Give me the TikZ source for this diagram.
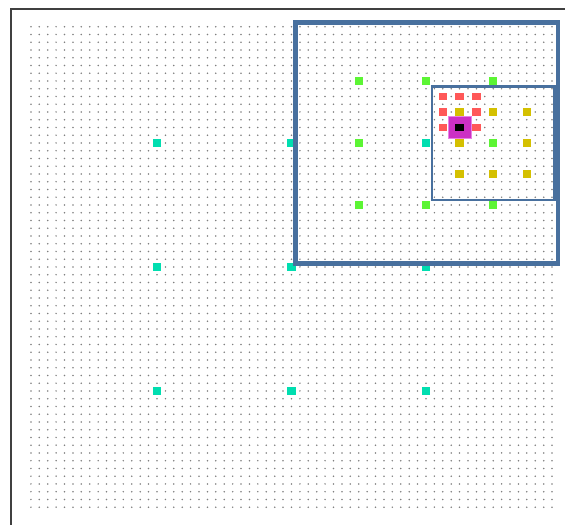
\documentclass[tikz,border=0pt]{standalone}
\usepackage{tikz}
\usetikzlibrary{positioning}
\definecolor{gridblue}{RGB}{72,112,158}
\definecolor{cellteal}{RGB}{0,222,176}
\definecolor{cellgreen}{RGB}{92,245,52}
\definecolor{cellyellow}{RGB}{212,192,0}
\definecolor{cellred}{RGB}{255,88,88}
\definecolor{cellmagenta}{RGB}{204,48,196}
\definecolor{cellpink}{RGB}{232,130,228}
\tikzset{
  cell/.style={rectangle, inner sep=0pt, minimum width=2.5mm, minimum height=2.35mm},
  tcell/.style={cell, fill=cellteal},
  gcell/.style={cell, fill=cellgreen},
  ycell/.style={cell, fill=cellyellow},
  rcell/.style={cell, fill=cellred},
  hcell/.style={rectangle, inner sep=0pt, minimum width=7.1mm, minimum height=6.6mm,
                fill=cellmagenta, draw=cellpink, line width=0.3pt},
  kcell/.style={cell, fill=black},
  griddot/.style={black!50},
  frameline/.style={black!75, line width=0.6mm},
  outerbox/.style={gridblue, line width=1.45mm},
  innerbox/.style={gridblue, line width=0.7mm},
}
\begin{document}
\begin{tikzpicture}[x=0.25218cm, y=-0.2325cm]
  \useasboundingbox (-3.676,-3.452) rectangle (63.54,64.29);
  % frame
  \draw[frameline] (-2.37,64.6) |- (63.8,-2.35);
  % dot grid
  \foreach \i in {0,...,62}
    \foreach \j in {0,...,62}
      \fill[griddot] (\i,\j) circle[radius=0.26mm];
  % level 3
  \foreach \i in {49,51,53}
    \foreach \j in {9,11,13}
      \node[rcell] (r-\i-\j) at (\i,\j) {};
  % level 2
  \foreach \i in {51,55,59}
    \foreach \j in {11,15,19}
      \node[ycell] (y-\i-\j) at (\i,\j) {};
  % level 1
  \foreach \i in {39,47,55}
    \foreach \j in {7,15,23}
      \node[gcell] (g-\i-\j) at (\i,\j) {};
  % level 0
  \foreach \i in {15,31,47}
    \foreach \j in {15,31,47}
      \node[tcell] (t-\i-\j) at (\i,\j) {};
  % target
  \node[hcell] (hit) at (51,13) {};
  \node[kcell] (pt) at (51,13) {};
  % zoom boxes
  \coordinate (A) at (31.5,-0.5);  \coordinate (B) at (62.7,30.6);
  \coordinate (C) at (47.7,7.7);   \coordinate (D) at (62.3,22.35);
  \draw[outerbox] (A) rectangle (B);
  \draw[innerbox] (C) rectangle (D);
\end{tikzpicture}
\end{document}
